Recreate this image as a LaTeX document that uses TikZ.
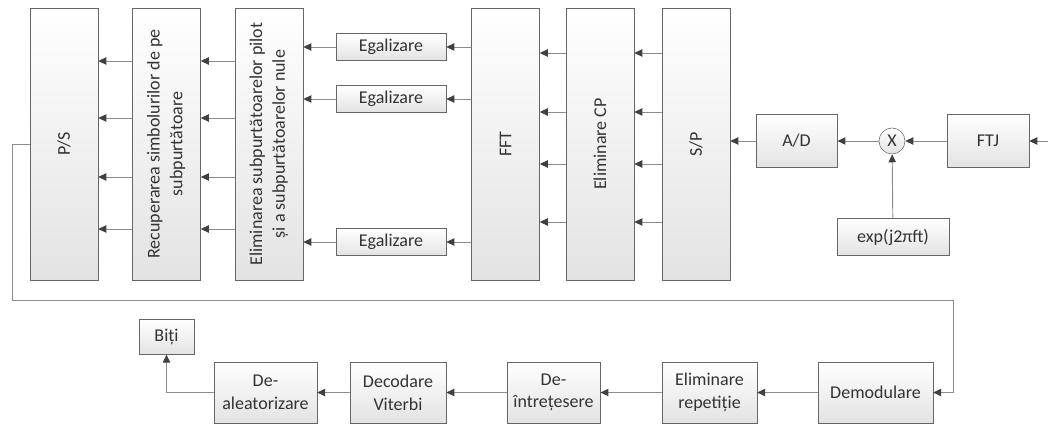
\documentclass[tikz,border=0pt]{standalone}
\usepackage{fontspec}
\setmainfont{Carlito}
\usetikzlibrary{arrows.meta,positioning}

\begin{document}
\begin{tikzpicture}[x=0.75pt, y=-0.75pt, every node/.style={font=\fontsize{13.5}{17}\selectfont, text=black!80},
        box/.style={draw=black!60, top color=white, bottom color=black!11, align=center, inner sep=2pt},
        vbox/.style={box, minimum width=51pt, minimum height=204pt},
        eqbox/.style={box, minimum width=82.5pt, minimum height=20pt},
        lowbox/.style={box, minimum height=46pt},
        arr/.style={-{Triangle[length=6pt, width=5.5pt, color=black!75]}, draw=black!45, line width=0.7pt}]
        \useasboundingbox (0,0) rectangle (1048,425);
        % vertical blocks
        \node[vbox] (ps) at (64,144) {\rotatebox{90}{P/S}};
        \node[vbox] (rec) at (166.5,144) {\rotatebox{90}{\begin{tabular}{@{}c@{}}Recuperarea simbolurilor de pe\\subpurtătoare\end{tabular}}};
        \node[vbox] (elim) at (269,144) {\rotatebox{90}{\begin{tabular}{@{}c@{}}Eliminarea subpurtătoarelor pilot\\și a subpurtătoarelor nule\end{tabular}}};
        \node[vbox] (fft) at (505.5,144) {\rotatebox{90}{FFT}};
        \node[vbox] (cp) at (600,144) {\rotatebox{90}{Eliminare CP}};
        \node[vbox] (sp) at (696,144) {\rotatebox{90}{S/P}};
        % front end
        \node[box, minimum width=61pt, minimum height=40pt] (ad) at (796.5,141) {A/D};
        \node[box, circle, inner sep=0pt, minimum size=19.5pt] (mix) at (892,141) {X};
        \node[box, minimum width=61.5pt, minimum height=40pt] (ftj) at (988,141) {FTJ};
        \node[box, minimum width=84pt, minimum height=28pt] (exp) at (893,237) {exp(j2πft)};
        \coordinate (in) at (1048,141);
        \draw[arr] (in) -- (ftj);
        \draw[arr] (ftj) -- (mix);
        \draw[arr] (exp) -- (mix);
        \draw[arr] (mix) -- (ad);
        \draw[arr] (ad) -- (sp.east |- ad);
        \foreach \y in {53,112,164,222} {
          \draw[arr] (sp.west |- 0,\y) -- (cp.east |- 0,\y);
          \draw[arr] (cp.west |- 0,\y) -- (fft.east |- 0,\y);
        }
        \foreach \y/\n in {47/eqa,99/eqb,242/eqc} {
          \node[eqbox] (\n) at (391,\y) {Egalizare};
          \draw[arr] (fft.west |- \n) -- (\n);
          \draw[arr] (\n) -- (elim.east |- \n);
        }
        \foreach \y in {61,118,177,229} {
          \draw[arr] (elim.west |- 0,\y) -- (rec.east |- 0,\y);
          \draw[arr] (rec.west |- 0,\y) -- (ps.east |- 0,\y);
        }
        % bottom chain
        \node[lowbox, minimum width=86pt] (demod) at (875.5,392.5) {Demodulare};
        \node[lowbox, minimum width=71pt] (elrep) at (709.5,392.5) {Eliminare\\repetiție};
        \node[lowbox, minimum width=70pt] (deint) at (553.5,392.5) {De-\\întrețesere};
        \node[lowbox, minimum width=72pt] (vit) at (398,392.5) {Decodare\\Viterbi};
        \node[lowbox, minimum width=77pt] (dealea) at (265.5,392.5) {De-\\aleatorizare};
        \node[box, minimum width=41pt, minimum height=26pt] (biti) at (166.5,337) {Biți};
        \coordinate (fb) at (12,300);
        \coordinate (fc) at (953,300);
        \draw[arr] (ps.west) -| (fb) -- (fc) |- (demod.east);
        \draw[arr] (demod) -- (elrep);
        \draw[arr] (elrep) -- (deint);
        \draw[arr] (deint) -- (vit);
        \draw[arr] (vit) -- (dealea);
        \draw[arr] (dealea.west) -| (biti.south);
      \end{tikzpicture}
\end{document}
